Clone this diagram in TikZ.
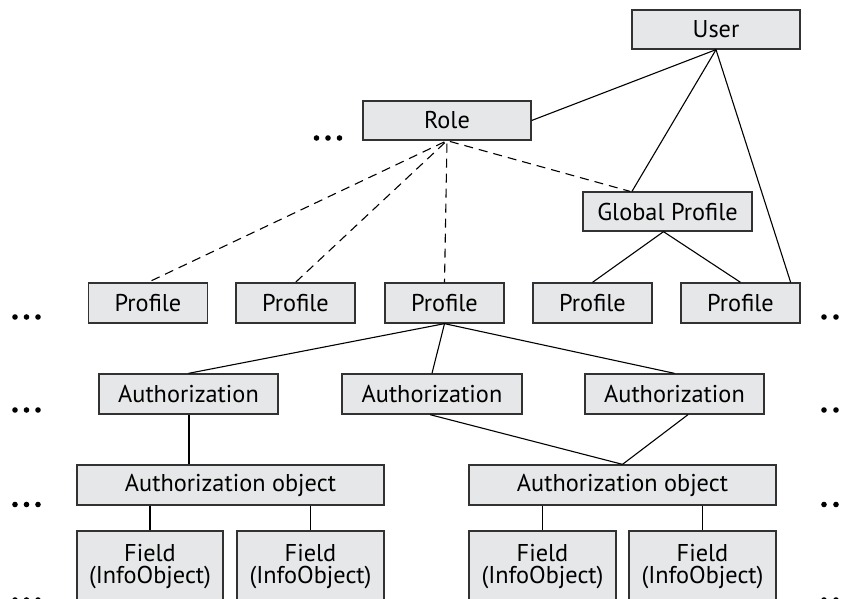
\documentclass[tikz,border=0pt]{standalone}
\usepackage{fontspec}
\setmainfont{PT Sans}
\definecolor{boxfill}{RGB}{230,231,232}
\definecolor{boxline}{RGB}{50,50,50}
\begin{document}
\begin{tikzpicture}[x=1pt,y=-1pt,
  box/.style={draw=boxline,fill=boxfill,line width=1.3pt,inner sep=0pt,
    font=\fontsize{24.3}{22.3}\selectfont,align=center},
  link/.style={line width=1.1pt},
  dlink/.style={line width=1.1pt,dash pattern=on 9pt off 6pt},
  dot/.style={fill=black,circle,inner sep=0pt,minimum size=5.6pt}]
\useasboundingbox (0,0) rectangle (844,599);

% top levels
\node[box,minimum width=168,minimum height=39] (user) at (716,29.5) {User};
\node[box,minimum width=168,minimum height=39] (role) at (447,120.5) {Role};
\node[box,minimum width=169,minimum height=39] (gp) at (667.5,211.5) {Global Profile};

% profiles
\foreach \n/\x in {p1/148,p2/295.5,p3/444.5,p4/592.5,p5/740.5}
  \node[box,minimum width=119,minimum height=40] (\n) at (\x,303) {Profile};

% authorizations
\node[box,minimum width=179,minimum height=40] (a1) at (188.5,394) {Authorization};
\node[box,minimum width=180,minimum height=40] (a2) at (432,394) {Authorization};
\node[box,minimum width=179,minimum height=40] (a3) at (674.5,394) {Authorization};

% authorization objects
\node[box,minimum width=307,minimum height=40] (o1) at (230.5,485) {Authorization object};
\node[box,minimum width=307,minimum height=40] (o2) at (622.5,485) {Authorization object};

% fields
\foreach \n/\x/\w in {f1/150/146,f2/310.5/147,f3/542.5/147,f4/702.5/147}
  \node[box,minimum width=\w,minimum height=71] (\n) at (\x,566.5) {Field\\(InfoObject)};

% user assignments
\draw[link] (role.east) -- (user.south);
\draw[link] (user.south) -- ([xshift=-35.5]gp.north);
\draw[link] (user.south) -- ([xshift=-10]p5.north east);

% role to profiles
\foreach \t in {p1,p2,p3}
  \draw[dlink,shorten <=3pt] (role.south) -- (\t.north);
\draw[dlink,shorten <=3pt] (role.south) -- ([xshift=-37.5]gp.north);

% global profile
\draw[link] ([xshift=-4]gp.south) -- (p4.north);
\draw[link] ([xshift=-4]gp.south) -- (p5.north);

% profile to authorizations
\foreach \t in {a1,a2,a3}
  \draw[link] (p3.south) -- (\t.north);

% authorizations to objects
\draw[link] ([xshift=0.5]a1.south) -- ([xshift=0.5]a1.south |- o1.north);
\draw[link] ([xshift=-2]a2.south) -- (o2.north);
\draw[link] ([xshift=13.5]a3.south) -- (o2.north);

% objects to fields
\draw[link] (f1.north |- o1.south) -- (f1.north);
\draw[link] (f2.north |- o1.south) -- (f2.north);
\draw[link] (f3.north |- o2.south) -- (f3.north);
\draw[link] (f4.north |- o2.south) -- (f4.north);

% continuation marks
\foreach \y [count=\i] in {317,410,504.5,600} {
  \foreach \x [count=\j] in {15,26.5,38}
    \node[dot] (l\i\j) at (\x,\y) {};
  \foreach \x [count=\j] in {824,836,848}
    \node[dot] (r\i\j) at (\x,\y) {};
}
\foreach \x [count=\j] in {316.5,328,339.5}
  \node[dot] (t\j) at (\x,138) {};
\end{tikzpicture}
\end{document}
